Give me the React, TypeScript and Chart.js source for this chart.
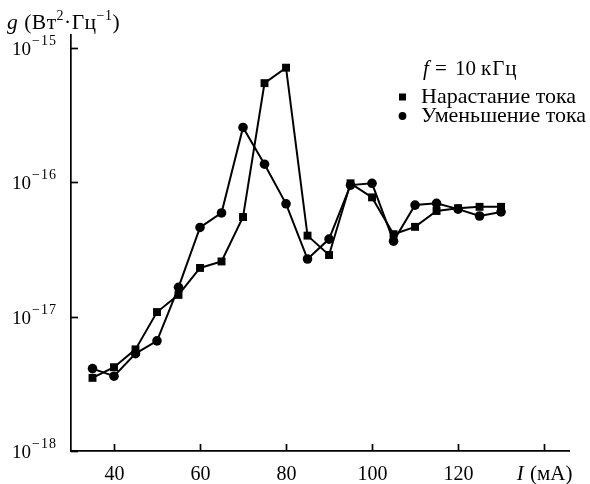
import React, { useEffect, useRef } from 'react';
import { Chart, registerables } from 'chart.js';

Chart.register(...registerables);

// ---- data ----
const currents = [35, 40, 45, 50, 55, 60, 65, 70, 75, 80, 85, 90, 95, 100, 105, 110, 115, 120, 125, 130];
const increasing = [
  3.5e-18, 4.2e-18, 5.7e-18, 1.08e-17, 1.45e-17, 2.3e-17, 2.57e-17, 5.5e-17, 5.45e-16, 7.1e-16,
  4.0e-17, 2.87e-17, 9.8e-17, 7.7e-17, 4.1e-17, 4.65e-17, 6.1e-17, 6.4e-17, 6.55e-17, 6.55e-17,
];
const decreasing = [
  4.1e-18, 3.6e-18, 5.3e-18, 6.6e-18, 1.65e-17, 4.6e-17, 5.9e-17, 2.55e-16, 1.36e-16, 6.9e-17,
  2.68e-17, 3.77e-17, 9.5e-17, 9.8e-17, 3.64e-17, 6.75e-17, 6.95e-17, 6.3e-17, 5.6e-17, 6.0e-17,
];
const seriesNames = ['Нарастание тока', 'Уменьшение тока'];
const xTickValues = [40, 60, 80, 100, 120, 140];
const xTickLabels = ['40', '60', '80', '100', '120', ''];
const yTickValues = [1e-18, 1e-17, 1e-16, 1e-15];
const yTickExponents = ['−18', '−17', '−16', '−15'];
const xAxisVar = 'I';
const xAxisUnit = ' (мА)';
const frequencyParts = ['f', '=', '10', 'кГц'];

const FONT = "'Liberation Serif', 'Times New Roman', 'DejaVu Serif', serif";

const annotate = {
  id: 'annotate',
  afterDraw(chart: any) {
    const ctx = chart.ctx as any;
    const xs = chart.scales.x;
    const ys = chart.scales.y;
    const { bottom, left } = chart.chartArea;
    ctx.save();
    ctx.strokeStyle = '#000';
    ctx.fillStyle = '#000';
    ctx.lineWidth = 1.7;

    // x ticks (inward) + labels
    ctx.font = `20px ${FONT}`;
    ctx.textAlign = 'center';
    ctx.textBaseline = 'alphabetic';
    xTickValues.forEach((v, i) => {
      const px = Math.round(xs.getPixelForValue(v)) + 0.5;
      ctx.beginPath();
      ctx.moveTo(px, bottom);
      ctx.lineTo(px, bottom - 7);
      ctx.stroke();
      if (xTickLabels[i]) ctx.fillText(xTickLabels[i], px, 480);
    });
    // x axis title at last tick
    {
      const px = xs.getPixelForValue(xTickValues[xTickValues.length - 1]);
      ctx.textAlign = 'left';
      ctx.font = `italic 21px ${FONT}`;
      const w1 = ctx.measureText(xAxisVar).width;
      ctx.font = `21px ${FONT}`;
      const w2 = ctx.measureText(xAxisUnit).width;
      const x0 = px - (w1 + w2) / 2;
      ctx.font = `italic 21px ${FONT}`;
      ctx.fillText(xAxisVar, x0, 480);
      ctx.font = `21px ${FONT}`;
      ctx.fillText(xAxisUnit, x0 + w1 + 1, 480);
    }

    // y ticks (inward) + labels
    yTickValues.forEach((v, i) => {
      const py = Math.round(ys.getPixelForValue(v)) + 0.5;
      ctx.beginPath();
      ctx.moveTo(left, py);
      ctx.lineTo(left + 7, py);
      ctx.stroke();
      ctx.textAlign = 'left';
      ctx.letterSpacing = '0px';
      ctx.font = `19px ${FONT}`;
      ctx.fillText('10', 12, py + 6);
      const w = ctx.measureText('10').width;
      ctx.letterSpacing = '1px';
      ctx.font = `14px ${FONT}`;
      ctx.fillText(yTickExponents[i], 12 + w + 1, py - 4);
      ctx.letterSpacing = '0px';
    });

    // y axis title: g (Вт²·Гц⁻¹)
    {
      let x = 7;
      const base = 29;
      ctx.letterSpacing = '0.5px';
      const part = (t: string, font: string, dy = 0) => {
        ctx.font = font;
        ctx.fillText(t, x, base + dy);
        x += ctx.measureText(t).width;
      };
      ctx.textAlign = 'left';
      part('g', `italic 21.5px ${FONT}`);
      part(' (Вт', `21.5px ${FONT}`);
      part('2', `14px ${FONT}`, -9);
      part('·Гц', `21.5px ${FONT}`);
      part('−1', `14px ${FONT}`, -9);
      part(')', `21.5px ${FONT}`);
      ctx.letterSpacing = '0px';
    }

    // legend
    {
      ctx.textAlign = 'left';
      ctx.textBaseline = 'alphabetic';
      ctx.font = `italic 21px ${FONT}`;
      ctx.fillText(frequencyParts[0], 423, 75);
      ctx.font = `21px ${FONT}`;
      ctx.fillText(frequencyParts[1], 435, 75);
      ctx.fillText(frequencyParts[2], 455, 75);
      ctx.letterSpacing = '1px';
      ctx.fillText(frequencyParts[3], 481, 75);
      ctx.letterSpacing = '0px';

      ctx.font = `22px ${FONT}`;
      ctx.textBaseline = 'middle';
      ctx.fillRect(399, 93.5, 7, 7);
      ctx.fillText(seriesNames[0], 421, 97.5);
      ctx.beginPath();
      ctx.arc(402.5, 116, 3.9, 0, Math.PI * 2);
      ctx.fill();
      ctx.fillText(seriesNames[1], 421, 116.5);
    }
    ctx.restore();
  },
};

export default function App() {
  const ref = useRef<HTMLCanvasElement>(null);
  useEffect(() => {
    if (!ref.current) return;
    const chart = new Chart(ref.current, {
      type: 'line',
      data: {
        datasets: [
          {
            label: seriesNames[0],
            data: currents.map((x, i) => ({ x, y: increasing[i] })),
            borderColor: '#000',
            backgroundColor: '#000',
            borderWidth: 2,
            pointStyle: 'rect',
            pointRadius: 5.6,
            pointBorderWidth: 0,
            tension: 0,
          },
          {
            label: seriesNames[1],
            data: currents.map((x, i) => ({ x, y: decreasing[i] })),
            borderColor: '#000',
            backgroundColor: '#000',
            borderWidth: 2,
            pointStyle: 'circle',
            pointRadius: 4.8,
            pointBorderWidth: 0,
            tension: 0,
          },
        ],
      },
      options: {
        responsive: false,
        animation: false,
        layout: { padding: { top: 35, right: 21, left: 0, bottom: 0 }, autoPadding: false },
        plugins: { legend: { display: false }, tooltip: { enabled: false } },
        scales: {
          x: {
            type: 'linear',
            min: 30,
            max: 145.8,
            grid: { display: false },
            border: { display: true, color: '#000', width: 1.7 },
            ticks: { display: false },
            afterBuildTicks: (s: any) => {
              s.ticks = xTickValues.map((value) => ({ value }));
            },
            afterFit: (s: any) => {
              s.height = 33;
            },
          },
          y: {
            type: 'logarithmic',
            min: 1e-18,
            max: 1.243e-15,
            grid: { display: false },
            border: { display: true, color: '#000', width: 1.7 },
            ticks: { display: false },
            afterBuildTicks: (s: any) => {
              s.ticks = yTickValues.map((value) => ({ value }));
            },
            afterFit: (s: any) => {
              s.width = 71;
            },
          },
        },
      },
      plugins: [annotate],
    });
    return () => chart.destroy();
  }, []);
  return (
    <div style={{ position: 'fixed', left: 0, top: 0, width: 590, height: 484, background: '#fff' }}>
      <canvas ref={ref} width={590} height={484} style={{ display: 'block' }} />
    </div>
  );
}
